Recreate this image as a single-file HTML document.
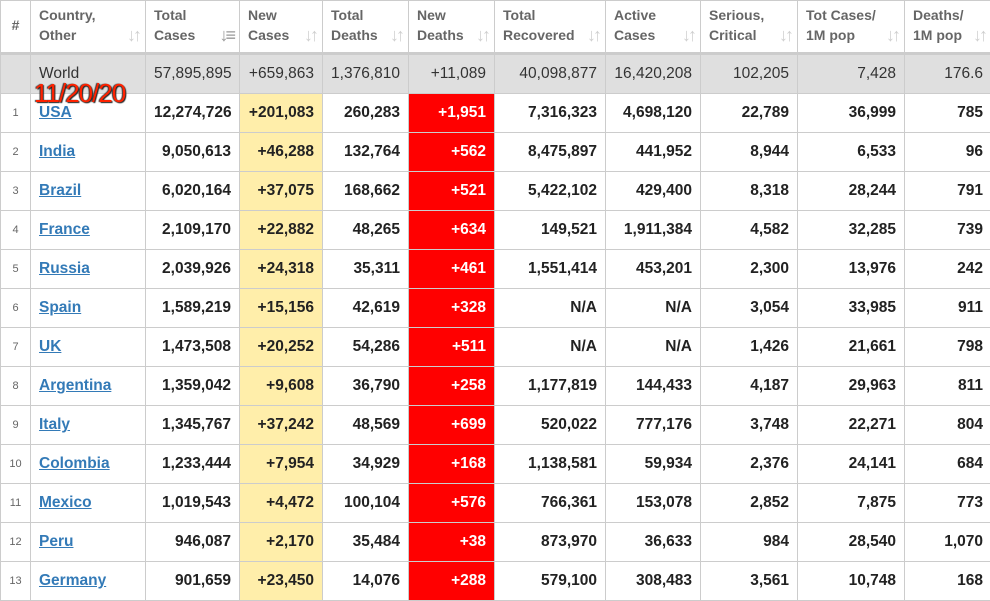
<!DOCTYPE html>
<html><head><style>
body{margin:0;width:990px;height:600px;overflow:hidden;background:#fff;font-family:"Liberation Sans",Arial,sans-serif;position:relative}
table{border-collapse:collapse;table-layout:fixed;position:absolute;left:0;top:0;width:991px}
td,th{border:1px solid #ccc;padding:0 8px;font-size:15px;color:#222;white-space:nowrap;overflow:hidden}
th{height:51px;color:#666;font-size:14px;font-weight:bold;text-align:left;vertical-align:top;line-height:20px;border-bottom:3px solid #ccc;position:relative;padding-top:4px;padding-bottom:0;box-sizing:border-box}
th .s{position:absolute;right:6px;top:24px;color:#d0d0d0;font-size:18px;letter-spacing:-3px;font-weight:bold;line-height:20px}
td{height:38px;text-align:right;font-weight:bold;font-size:15.5px}
td.n{font-size:11px;color:#666;text-align:center;font-weight:normal;padding:0}
td.c{text-align:left}
td.c a{color:#337ab7;text-decoration:underline}
tr.w td{background:#dfdfdf;font-weight:normal;color:#333}
td.y{background:#ffeeaa}
td.r{background:#ff0000;color:#fff}
tr.w td.y,tr.w td.r{background:#dfdfdf;color:#333}
.date{position:absolute;left:34px;top:78px;font-size:26px;color:#ff2200;text-shadow:1px 1px 1px #222,-1px 0 1px #333;letter-spacing:-1px}
</style></head><body>
<table>
<colgroup><col style="width:30px"><col style="width:115px"><col style="width:94px"><col style="width:83px"><col style="width:86px"><col style="width:86px"><col style="width:111px"><col style="width:95px"><col style="width:97px"><col style="width:107px"><col style="width:87px"></colgroup>
<tr style="height:53px"><th style="text-align:center;padding:14px 0 0">#</th><th>Country,<br>Other<span class="s">↓↑</span></th><th>Total<br>Cases<span class="s" style="color:#999">↓≡</span></th><th>New<br>Cases<span class="s">↓↑</span></th><th>Total<br>Deaths<span class="s">↓↑</span></th><th>New<br>Deaths<span class="s">↓↑</span></th><th>Total<br>Recovered<span class="s">↓↑</span></th><th>Active<br>Cases<span class="s">↓↑</span></th><th>Serious,<br>Critical<span class="s">↓↑</span></th><th>Tot Cases/<br>1M pop<span class="s">↓↑</span></th><th>Deaths/<br>1M pop<span class="s">↓↑</span></th></tr>
<tr class="w"><td class="n"></td><td class="c">World</td><td>57,895,895</td><td class="y">+659,863</td><td>1,376,810</td><td class="r">+11,089</td><td>40,098,877</td><td>16,420,208</td><td>102,205</td><td>7,428</td><td>176.6</td></tr>
<tr><td class="n">1</td><td class="c"><a>USA</a></td><td>12,274,726</td><td class="y">+201,083</td><td>260,283</td><td class="r">+1,951</td><td>7,316,323</td><td>4,698,120</td><td>22,789</td><td>36,999</td><td>785</td></tr>
<tr><td class="n">2</td><td class="c"><a>India</a></td><td>9,050,613</td><td class="y">+46,288</td><td>132,764</td><td class="r">+562</td><td>8,475,897</td><td>441,952</td><td>8,944</td><td>6,533</td><td>96</td></tr>
<tr><td class="n">3</td><td class="c"><a>Brazil</a></td><td>6,020,164</td><td class="y">+37,075</td><td>168,662</td><td class="r">+521</td><td>5,422,102</td><td>429,400</td><td>8,318</td><td>28,244</td><td>791</td></tr>
<tr><td class="n">4</td><td class="c"><a>France</a></td><td>2,109,170</td><td class="y">+22,882</td><td>48,265</td><td class="r">+634</td><td>149,521</td><td>1,911,384</td><td>4,582</td><td>32,285</td><td>739</td></tr>
<tr><td class="n">5</td><td class="c"><a>Russia</a></td><td>2,039,926</td><td class="y">+24,318</td><td>35,311</td><td class="r">+461</td><td>1,551,414</td><td>453,201</td><td>2,300</td><td>13,976</td><td>242</td></tr>
<tr><td class="n">6</td><td class="c"><a>Spain</a></td><td>1,589,219</td><td class="y">+15,156</td><td>42,619</td><td class="r">+328</td><td>N/A</td><td>N/A</td><td>3,054</td><td>33,985</td><td>911</td></tr>
<tr><td class="n">7</td><td class="c"><a>UK</a></td><td>1,473,508</td><td class="y">+20,252</td><td>54,286</td><td class="r">+511</td><td>N/A</td><td>N/A</td><td>1,426</td><td>21,661</td><td>798</td></tr>
<tr><td class="n">8</td><td class="c"><a>Argentina</a></td><td>1,359,042</td><td class="y">+9,608</td><td>36,790</td><td class="r">+258</td><td>1,177,819</td><td>144,433</td><td>4,187</td><td>29,963</td><td>811</td></tr>
<tr><td class="n">9</td><td class="c"><a>Italy</a></td><td>1,345,767</td><td class="y">+37,242</td><td>48,569</td><td class="r">+699</td><td>520,022</td><td>777,176</td><td>3,748</td><td>22,271</td><td>804</td></tr>
<tr><td class="n">10</td><td class="c"><a>Colombia</a></td><td>1,233,444</td><td class="y">+7,954</td><td>34,929</td><td class="r">+168</td><td>1,138,581</td><td>59,934</td><td>2,376</td><td>24,141</td><td>684</td></tr>
<tr><td class="n">11</td><td class="c"><a>Mexico</a></td><td>1,019,543</td><td class="y">+4,472</td><td>100,104</td><td class="r">+576</td><td>766,361</td><td>153,078</td><td>2,852</td><td>7,875</td><td>773</td></tr>
<tr><td class="n">12</td><td class="c"><a>Peru</a></td><td>946,087</td><td class="y">+2,170</td><td>35,484</td><td class="r">+38</td><td>873,970</td><td>36,633</td><td>984</td><td>28,540</td><td>1,070</td></tr>
<tr><td class="n">13</td><td class="c"><a>Germany</a></td><td>901,659</td><td class="y">+23,450</td><td>14,076</td><td class="r">+288</td><td>579,100</td><td>308,483</td><td>3,561</td><td>10,748</td><td>168</td></tr>
</table>
<div class="date">11/20/20</div>
</body></html>
